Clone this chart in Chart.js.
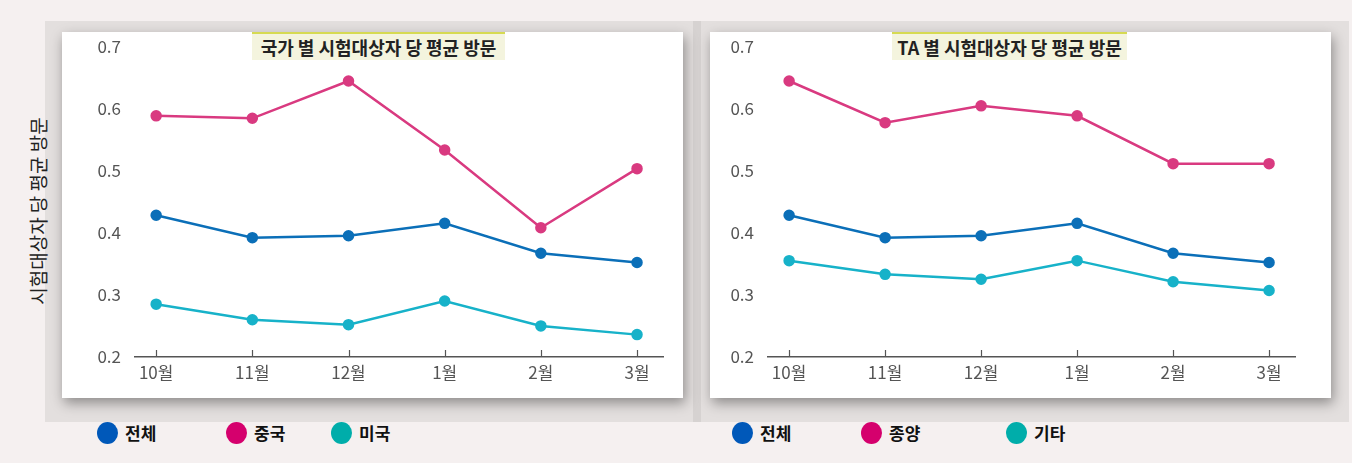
<!DOCTYPE html>
<html>

<head>
    <title>시험대상자 당 평균 방문</title>
    <meta charset="utf-8">
    <script src="https://cdn.jsdelivr.net/npm/chart.js"></script>
    <style type="text/css">
        body {
            margin: 0;
            width: 1352px;
            height: 463px;
            background-color: #f5f0f0;
            position: relative;
            overflow: hidden;
            font-family: "Noto Sans CJK KR", "Noto Sans", sans-serif;
        }

        .panel {
            position: absolute;
            top: 21px;
            height: 401px;
            background-color: #e3dfde;
        }

        .sep {
            position: absolute;
            left: 693px;
            top: 21px;
            width: 8px;
            height: 401px;
            background-color: #d6d2d1;
        }

        .card {
            position: absolute;
            top: 32px;
            width: 621px;
            height: 366px;
            background-color: #fff;
            box-shadow: 2px 5px 12px rgba(0, 0, 0, 0.38);
        }

        .card .wrap {
            position: absolute;
            left: 0;
            top: -10px;
            width: 621px;
            height: 376px;
        }

        .title {
            position: absolute;
            top: 32px;
            height: 26px;
            line-height: 26px;
            background-color: #f4f4de;
            border-top: 2px solid #d6da52;
            text-align: center;
            font-size: 18px;
            font-weight: 700;
            color: #222;
        }

        .ytitle {
            position: absolute;
            left: 37px;
            top: 211px;
            transform: translate(-50%, -50%) rotate(-90deg);
            white-space: nowrap;
            font-size: 19px;
            color: #222;
        }

        .leg {
            position: absolute;
            top: 422px;
            height: 22px;
            line-height: 22px;
            font-size: 17px;
            font-weight: 700;
            color: #111;
            white-space: nowrap;
        }

        .leg i {
            display: inline-block;
            width: 21px;
            height: 22px;
            border-radius: 50%;
            vertical-align: top;
            margin-right: 7px;
        }
    </style>
</head>

<body>
    <div class="panel" style="left:45px; width:648px;"></div>
    <div class="sep"></div>
    <div class="panel" style="left:701px; width:648px;"></div>
    <div class="card" style="left:62px;"><div class="wrap"><canvas id="chartLeft"></canvas></div></div>
    <div class="card" style="left:710px;"><div class="wrap"><canvas id="chartRight"></canvas></div></div>
    <div class="title" style="left:252px; width:253px;">국가 별 시험대상자 당 평균 방문</div>
    <div class="title" style="left:892px; width:235px;">TA 별 시험대상자 당 평균 방문</div>
    <div class="ytitle">시험대상자 당 평균 방문</div>
    <div id="legends"></div>

    <script>
        const months = ['10월', '11월', '12월', '1월', '2월', '3월'];
        const yTicks = [0.2, 0.3, 0.4, 0.5, 0.6, 0.7];

        // 국가 별
        const countryNames = ['전체', '중국', '미국'];
        const countryAll = [0.428, 0.392, 0.395, 0.415, 0.367, 0.352];
        const countryChina = [0.588, 0.584, 0.644, 0.533, 0.408, 0.503];
        const countryUS = [0.285, 0.260, 0.252, 0.290, 0.250, 0.236];

        // TA 별
        const taNames = ['전체', '종양', '기타'];
        const taAll = [0.428, 0.392, 0.395, 0.415, 0.367, 0.352];
        const taOncology = [0.644, 0.577, 0.604, 0.588, 0.511, 0.511];
        const taOther = [0.355, 0.333, 0.325, 0.355, 0.321, 0.307];

        const lineColors = ['#0b6fb8', '#d93a80', '#17b2c9'];
        const legendColors = ['#0058b9', '#d5006d', '#00adaa'];
        const tickFont = { family: '"Liberation Sans Narrow", "Noto Sans CJK KR", sans-serif', size: 17 };

        // x축 눈금선을 위쪽으로 그림
        const upTicks = {
            id: 'upTicks',
            afterDraw(chart) {
                const x = chart.scales.x, c = chart.ctx, y0 = chart.chartArea.bottom;
                c.save();
                c.strokeStyle = '#555';
                c.lineWidth = 1.2;
                x.ticks.forEach((t, i) => {
                    const px = Math.round(x.getPixelForTick(i)) + 0.5;
                    c.beginPath();
                    c.moveTo(px, y0);
                    c.lineTo(px, y0 - 7);
                    c.stroke();
                });
                c.restore();
            }
        };

        function makeChart(id, series, yWidth, padRight) {
            const ctx = document.getElementById(id).getContext('2d');
            return new Chart(ctx, {
                type: 'line',
                data: {
                    datasets: series.map((s, k) => ({
                        data: s.map((v, i) => ({ x: i, y: v })),
                        borderColor: lineColors[k],
                        backgroundColor: lineColors[k],
                        borderWidth: 2.5,
                        pointRadius: 4.5,
                        pointHoverRadius: 4.5,
                        tension: 0
                    }))
                },
                plugins: [upTicks],
                options: {
                    responsive: true,
                    maintainAspectRatio: false,
                    animation: false,
                    layout: { padding: { top: 23, right: padRight, left: 0, bottom: 0 } },
                    plugins: { legend: { display: false }, tooltip: { enabled: false } },
                    scales: {
                        x: {
                            type: 'linear',
                            min: -0.22,
                            max: 5.27,
                            afterBuildTicks: (s) => { s.ticks = months.map((m, i) => ({ value: i })); },
                            afterFit: (s) => { s.height = 41; },
                            grid: { display: false, drawTicks: false },
                            border: { display: true, color: '#555', width: 1.5 },
                            ticks: {
                                padding: 5,
                                color: '#555',
                                font: tickFont,
                                autoSkip: false,
                                maxRotation: 0,
                                callback: (v) => months[v]
                            }
                        },
                        y: {
                            min: yTicks[0],
                            max: yTicks[yTicks.length - 1],
                            afterBuildTicks: (s) => { s.ticks = yTicks.map(v => ({ value: v })); },
                            afterFit: (s) => { s.width = yWidth; },
                            grid: { display: false, drawTicks: false },
                            border: { display: false },
                            ticks: {
                                padding: 14,
                                color: '#555',
                                font: tickFont,
                                callback: (v) => v.toFixed(1)
                            }
                        }
                    }
                }
            });
        }

        makeChart('chartLeft', [countryAll, countryChina, countryUS], 73, 20);
        makeChart('chartRight', [taAll, taOncology, taOther], 58, 36);

        // 범례
        const legendBox = document.getElementById('legends');
        function addLegend(names, lefts) {
            names.forEach((n, k) => {
                const d = document.createElement('div');
                d.className = 'leg';
                d.style.left = lefts[k] + 'px';
                d.innerHTML = '<i style="background:' + legendColors[k] + '"></i>' + n;
                legendBox.appendChild(d);
            });
        }
        addLegend(countryNames, [97, 226, 331]);
        addLegend(taNames, [732, 861, 1006]);
    </script>
</body>

</html>
